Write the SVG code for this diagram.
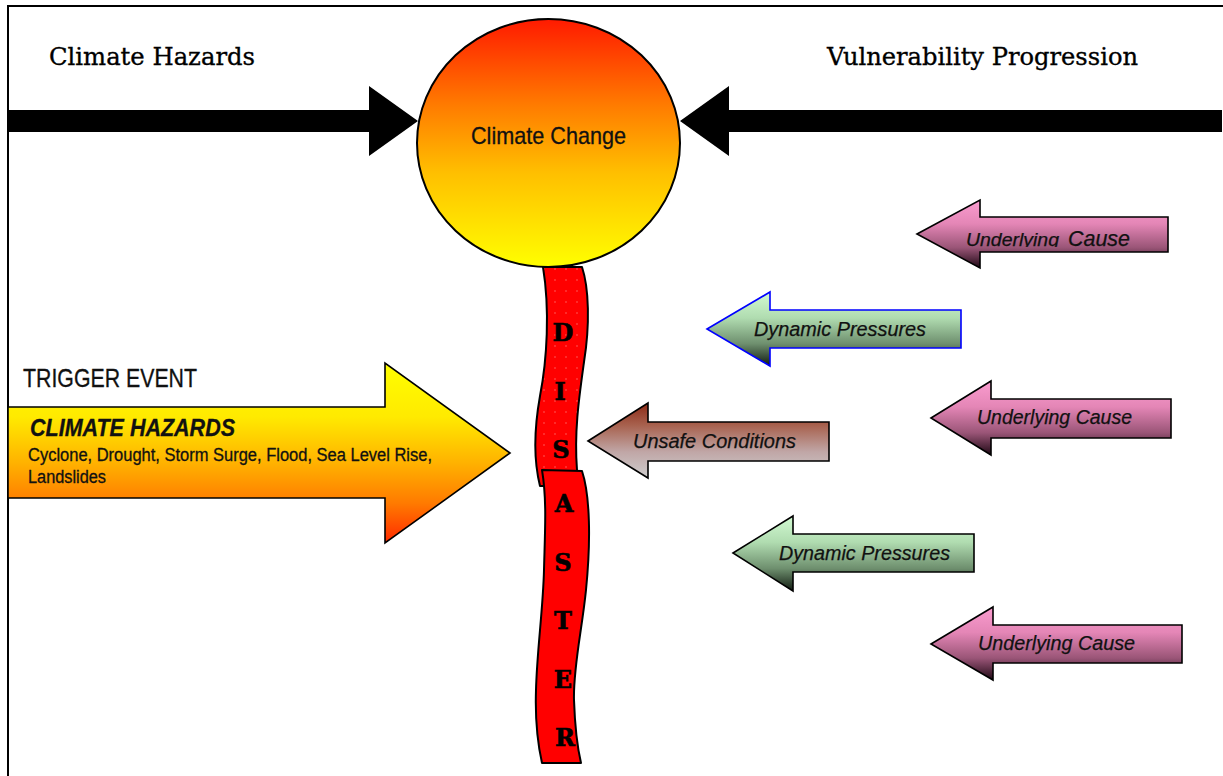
<svg xmlns="http://www.w3.org/2000/svg" width="1223" height="776" viewBox="0 0 1223 776">
  <style>
    .frame { stroke: #000; stroke-width: 2; fill: none; }
    .heading { font-family: "DejaVu Serif", "Liberation Serif", serif; font-size: 25px; fill: #000; stroke: #000; stroke-width: 0.35; }
    .narrow { font-family: "Liberation Sans", Arial, sans-serif; fill: #111; stroke: #111; stroke-width: 0.3; }
    .blockarrow { stroke: #000; stroke-width: 1.6; stroke-linejoin: miter; }
    .label { font-family: "Liberation Sans", Arial, sans-serif; font-style: italic; font-size: 20.5px; fill: #111; stroke: #111; stroke-width: 0.25; }
    .ribbon { fill: #ff0000; stroke: #000; stroke-width: 2; stroke-linejoin: round; }
    .letter { font-family: "DejaVu Serif", "Liberation Serif", serif; font-weight: bold; font-size: 24px; fill: #000; stroke: #000; stroke-width: 0.6; text-anchor: middle; }
  </style>
  <defs>
    <linearGradient id="sunGrad" x1="0" y1="0" x2="0" y2="1">
      <stop offset="0" stop-color="#ff1a00"/>
      <stop offset="0.35" stop-color="#ff7c00"/>
      <stop offset="0.62" stop-color="#ffbf00"/>
      <stop offset="1" stop-color="#ffff00"/>
    </linearGradient>
    <linearGradient id="hazardGrad" x1="0" y1="0" x2="0" y2="1">
      <stop offset="0" stop-color="#ffff00"/>
      <stop offset="0.3" stop-color="#ffea00"/>
      <stop offset="0.55" stop-color="#ffb300"/>
      <stop offset="0.78" stop-color="#ff7a00"/>
      <stop offset="1" stop-color="#ff2a00"/>
    </linearGradient>
    <linearGradient id="pinkGrad" x1="0" y1="0" x2="0" y2="1">
      <stop offset="0" stop-color="#fa9ccf"/>
      <stop offset="0.35" stop-color="#e486b6"/>
      <stop offset="0.7" stop-color="#9a5577"/>
      <stop offset="1" stop-color="#1e0814"/>
    </linearGradient>
    <linearGradient id="greenGrad" x1="0" y1="0" x2="0" y2="1">
      <stop offset="0" stop-color="#d2fad2"/>
      <stop offset="0.35" stop-color="#b0dcb0"/>
      <stop offset="0.7" stop-color="#6e8f6e"/>
      <stop offset="1" stop-color="#101a10"/>
    </linearGradient>
    <linearGradient id="unsafeGrad" x1="0" y1="0" x2="0" y2="1">
      <stop offset="0" stop-color="#8c2a16"/>
      <stop offset="0.3" stop-color="#a8624f"/>
      <stop offset="0.65" stop-color="#c0a6a6"/>
      <stop offset="1" stop-color="#cdcdcd"/>
    </linearGradient>
    <pattern id="dots" width="11" height="11" patternUnits="userSpaceOnUse">
      <rect width="11" height="11" fill="#ff0000"/>
      <circle cx="5" cy="5" r="0.7" fill="#ffffff" fill-opacity="0.45"/>
    </pattern>
    <clipPath id="ucClip">
      <rect x="900" y="200" width="280" height="47"/>
    </clipPath>
  </defs>

  <!-- page frame -->
  <path class="frame" d="M8,776 L8,6 L1223,6"/>

  <!-- headings -->
  <text class="heading" x="49" y="65" textLength="206" lengthAdjust="spacingAndGlyphs">Climate Hazards</text>
  <text class="heading" x="827" y="65" textLength="311" lengthAdjust="spacingAndGlyphs">Vulnerability Progression</text>

  <!-- connectors: the two heavy arrows meeting at the centre -->
  <g id="connectors" fill="#000">
    <polygon points="8,110 369,110 369,86 418,121 369,156 369,132 8,132"/>
    <polygon points="1222,110 729,110 729,86 680,121 729,156 729,132 1222,132"/>
  </g>

  <!-- DISASTER ribbon -->
  <g id="disaster">
    <path class="ribbon" style="fill:url(#dots)" d="M543,267 L582,267 C589,288 590,325 584,362 C579,398 574,432 577,470 L578,486 L540,486 C533,458 535,424 540,396 C547,360 550,310 543,267 Z"/>
    <path class="ribbon" d="M542,470 L582,471 C590,495 591,540 586,590 C582,630 573,668 574,700 C575,730 578,750 581,763 L542,763 C538,745 535,720 536,690 C537,650 543,610 544,570 C545,530 547,500 542,470 Z"/>
    <text class="letter" x="563" y="341">D</text>
    <text class="letter" x="560" y="400">I</text>
    <text class="letter" x="561" y="458">S</text>
    <text class="letter" x="564" y="512">A</text>
    <text class="letter" x="563" y="571">S</text>
    <text class="letter" x="563" y="629">T</text>
    <text class="letter" x="563" y="688">E</text>
    <text class="letter" x="565" y="746">R</text>
  </g>

  <!-- central circle -->
  <g id="climate-change">
    <ellipse cx="548.5" cy="143" rx="131.5" ry="124" fill="url(#sunGrad)" stroke="#000" stroke-width="2"/>
    <text class="narrow" x="471" y="144" font-size="24" textLength="155" lengthAdjust="spacingAndGlyphs">Climate Change</text>
  </g>

  <!-- trigger event arrow -->
  <g id="trigger-event">
    <text class="narrow" x="23" y="387" font-size="25" textLength="174" lengthAdjust="spacingAndGlyphs">TRIGGER EVENT</text>
    <path class="blockarrow" fill="url(#hazardGrad)" d="M8,407 L385,407 L385,363 L510,453 L385,543 L385,498 L8,498 Z"/>
    <text class="narrow" x="30" y="436" font-size="23" font-weight="bold" font-style="italic" textLength="205" lengthAdjust="spacingAndGlyphs">CLIMATE HAZARDS</text>
    <text class="narrow" x="28" y="461" font-size="18" textLength="404" lengthAdjust="spacingAndGlyphs">Cyclone, Drought, Storm Surge, Flood, Sea Level Rise,</text>
    <text class="narrow" x="28" y="483" font-size="18" textLength="78" lengthAdjust="spacingAndGlyphs">Landslides</text>
  </g>

  <!-- vulnerability arrows -->
  <g id="underlying-cause-1">
    <path class="blockarrow" fill="url(#pinkGrad)" d="M917,234 L980,200 L980,217 L1168,217 L1168,252 L980,252 L980,268 Z"/>
    <text class="label" clip-path="url(#ucClip)" x="966" y="246"><tspan font-size="17.5" textLength="93" lengthAdjust="spacingAndGlyphs">Underlying</tspan><tspan font-size="21.5" x="1068" textLength="62" lengthAdjust="spacingAndGlyphs">Cause</tspan></text>
  </g>

  <g id="dynamic-pressures-1">
    <path class="blockarrow" fill="url(#greenGrad)" style="stroke:#0000ff" d="M707,329 L770,292 L770,310 L961,310 L961,348 L770,348 L770,366 Z"/>
    <text class="label" x="754" y="336" textLength="172" lengthAdjust="spacingAndGlyphs">Dynamic Pressures</text>
  </g>

  <g id="unsafe-conditions">
    <path class="blockarrow" fill="url(#unsafeGrad)" d="M588,441 L648,403 L648,422 L829,422 L829,461 L648,461 L648,478 Z"/>
    <text class="label" x="633" y="448" textLength="163" lengthAdjust="spacingAndGlyphs">Unsafe Conditions</text>
  </g>

  <g id="underlying-cause-2">
    <path class="blockarrow" fill="url(#pinkGrad)" d="M931,418 L991,381 L991,399 L1171,399 L1171,438 L991,438 L991,455 Z"/>
    <text class="label" x="977" y="424" textLength="155" lengthAdjust="spacingAndGlyphs">Underlying Cause</text>
  </g>

  <g id="dynamic-pressures-2">
    <path class="blockarrow" fill="url(#greenGrad)" d="M733,553 L793,516 L793,534 L974,534 L974,572 L793,572 L793,591 Z"/>
    <text class="label" x="779" y="560" textLength="171" lengthAdjust="spacingAndGlyphs">Dynamic Pressures</text>
  </g>

  <g id="underlying-cause-3">
    <path class="blockarrow" fill="url(#pinkGrad)" d="M931,644 L993,607 L993,625 L1182,625 L1182,663 L993,663 L993,680 Z"/>
    <text class="label" x="978" y="650" textLength="157" lengthAdjust="spacingAndGlyphs">Underlying Cause</text>
  </g>
</svg>
